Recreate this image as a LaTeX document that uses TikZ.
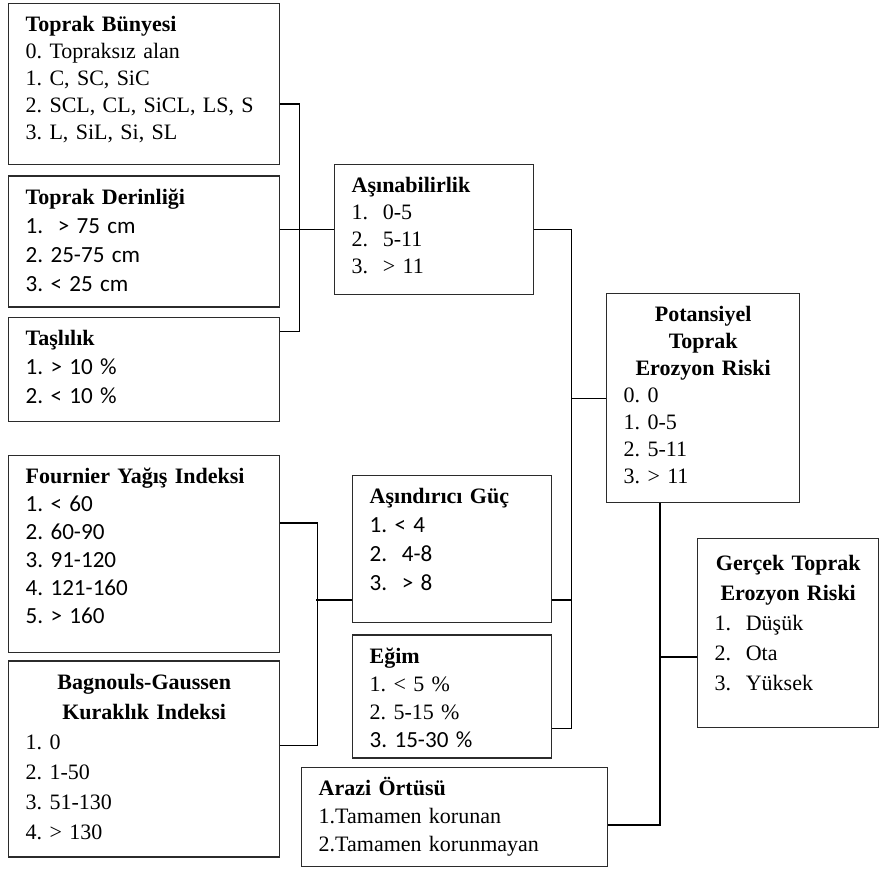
\documentclass[tikz,border=0pt]{standalone}
\usepackage{fontspec}
\setmainfont{Liberation Serif}
\newfontfamily\calib{Carlito}[Scale=1.05]
\usepackage{tikz}
\usetikzlibrary{positioning}
\definecolor{frame}{HTML}{2B2B2B}
\frenchspacing

\begin{document}
\begin{tikzpicture}[
  x=1pt, y=-1pt,
  factor/.style={rectangle, draw=frame, line width=1.4pt, fill=white, align=left, anchor=north west, inner xsep=17pt, inner ysep=12pt, text height=16pt, font=\fontsize{22}{27}\selectfont},
  lines/.style={font=\fontsize{22}{#1}\selectfont},
  link/.style={line width=1.3pt, black}
]
  \useasboundingbox (0,0) rectangle (880,869);

  % soil factors, stacked in the left column
  \node[factor, text width=237pt, text depth=121pt] (buny) at (8,3) {\textbf{Toprak Bünyesi}\\0. Topraksız alan\\1. C, SC, SiC\\2. SCL, CL, SiCL, LS, S\\3. L, SiL, Si, SL};
  \node[factor, lines=29pt, text width=237pt, text depth=91pt, below=10pt of buny] (derin) {\textbf{Toprak Derinliği}\\\calib 1.\ \ > 75 cm\\2. 25-75 cm\\3. < 25 cm};
  \node[factor, lines=29pt, text width=237pt, text depth=64pt, below=9pt of derin] (tasl) {\textbf{Taşlılık}\\\calib 1. > 10 \%\\2. < 10 \%};

  % climate factors
  \node[factor, lines=28pt, text width=237pt, text depth=157pt] (four) at (8,455) {\textbf{Fournier Yağış Indeksi}\\\calib 1. < 60\\2. 60-90\\3. 91-120\\4. 121-160\\5. > 160};
  \node[factor, lines=30pt, text width=237pt, text depth=156pt, below=7pt of four] (bagn) {\makebox[\hsize]{\textbf{Bagnouls-Gaussen}}\\\makebox[\hsize]{\textbf{Kuraklık Indeksi}}\\1. 0\\2. 1-50\\3. 51-130\\4. > 130};

  % middle column
  \node[factor, text width=165pt, text depth=90pt] (asin) at (334,164) {\textbf{Aşınabilirlik}\\1.\ \ 0-5\\2.\ \ 5-11\\3.\ \ > 11};
  \node[factor, lines=29pt, text width=165pt, text depth=107pt] (asind) at (352,475) {\textbf{Aşındırıcı Güç}\\\calib 1. < 4\\2.\ \ 4-8\\3.\ \ > 8};
  \node[factor, lines=28pt, text width=165pt, text depth=83pt, below=11pt of asind] (egim) {\textbf{Eğim}\\1. < 5 \%\\2. 5-15 \%\\{\calib 3. 15-30 \%}};
  \node[factor, lines=28pt, text width=272pt, text depth=59pt] (arazi) at (301,767) {\textbf{Arazi Örtüsü}\\1.Tamamen korunan\\2.Tamamen korunmayan};

  % results
  \node[factor, text width=159pt, text depth=169pt] (pot) at (606,293) {\makebox[\hsize]{\textbf{Potansiyel}}\\\makebox[\hsize]{\textbf{Toprak}}\\\makebox[\hsize]{\textbf{Erozyon Riski}}\\0. 0\\1. 0-5\\2. 5-11\\3. > 11};
  \node[factor, lines=30pt, text height=20pt, text width=147pt, text depth=145pt] (gerc) at (697,538) {\makebox[\hsize]{\textbf{Gerçek Toprak}}\\\makebox[\hsize]{\textbf{Erozyon Riski}}\\1.\ \ Düşük\\2.\ \ Ota\\3.\ \ Yüksek};

  % soil factors -> erodibility
  \draw[link] ([yshift=-101pt]buny.north east) -- ++(19,0) |- ([yshift=-15pt]tasl.north east);
  \draw[link] (derin.east |- asin.west) -- (asin.west);

  % climate factors -> erosivity
  \draw[link] ([yshift=-68pt]four.north east) -- ++(37,0) |- ([yshift=-85pt]bagn.north east);
  \draw[link] ([yshift=-125pt]asind.north west) -- ++(-36,0);

  % erodibility, erosivity, slope -> potential risk
  \draw[link] (asin.east) -- ++(37,0) coordinate (busB) |- ([yshift=-94pt]egim.north east);
  \draw[link] ([yshift=-125pt]asind.north east) -- ++(19,0);
  \draw[link] (busB |- pot.west) -- (pot.west);

  % potential risk, land cover -> actual risk
  \draw[link] ([xshift=54pt]pot.south west) coordinate (busD) |- ([yshift=-58pt]arazi.north east);
  \draw[link] ([yshift=-119pt]gerc.north west) -- ++(-37,0);

\end{tikzpicture}
\end{document}
